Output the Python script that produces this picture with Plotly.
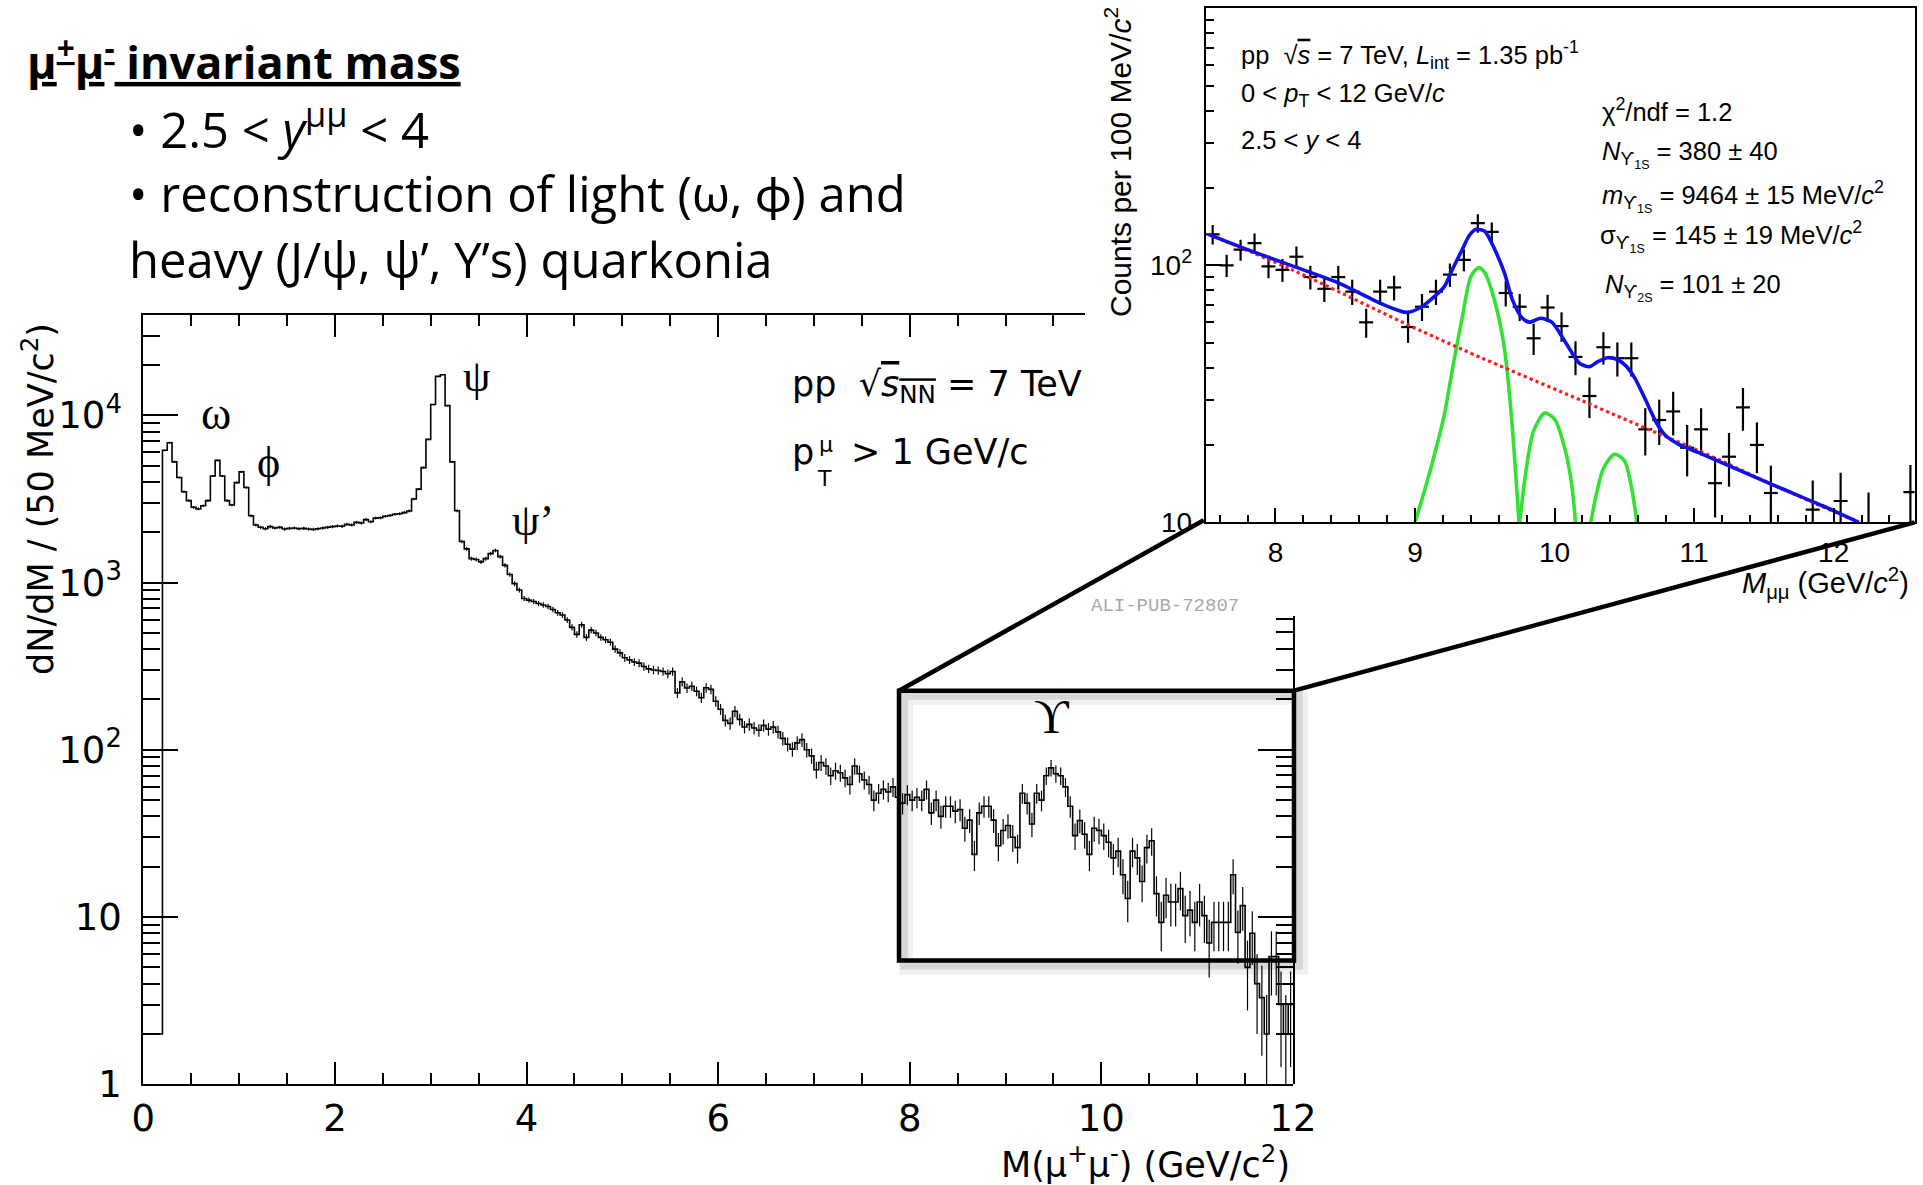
import numpy as np
import plotly.graph_objects as go

W, H = 1923, 1185

# ---------------------------------------------------------------------------
# Main spectrum: dN/dM in 50 MeV/c^2 bins, M(mu+mu-) from 0 to 12 GeV/c^2
# ---------------------------------------------------------------------------
BIN_WIDTH = 0.05
mass_counts = [
    2, 2, 2, 2,                                                        # 0.00-0.15
    6180, 6860, 5270, 4250, 3490, 3090, 2820, 2756, 2880, 3090,        # 0.20-0.65
    4340, 5380, 4340, 3090, 2910, 3960, 4590, 3700, 2510, 2210,        # 0.70-1.15
    2140, 2100, 2160, 2120, 2140, 2090, 2110, 2120, 2100, 2110,        # 1.20-1.65
    2090, 2080, 2100, 2120, 2140, 2160, 2180, 2170, 2230, 2210,        # 1.70-2.15
    2290, 2270, 2380, 2310, 2430, 2440, 2490, 2520, 2560, 2580,        # 2.20-2.65
    2620, 2680, 3160, 3620, 4870, 7180, 11600, 17100, 17470, 11430,    # 2.70-3.15
    5270, 2690, 1760, 1590, 1390, 1375, 1330, 1390, 1490, 1556,        # 3.20-3.65
    1430, 1268, 1117, 986, 902, 804, 785, 770, 750, 735,               # 3.70-4.15
    720, 690, 660, 640, 597, 540, 490, 560, 470, 520,                  # 4.20-4.65
    500, 470, 455, 440, 400, 380, 355, 345, 335, 330,                  # 4.70-5.15
    315, 305, 300, 298, 294, 285, 294, 219, 255, 234,                  # 5.20-5.65
    240, 224, 205, 235, 230, 195, 175, 150, 144, 170,                  # 5.70-6.15
    152, 137, 142, 135, 131, 140, 133, 137, 128, 117,                  # 6.20-6.65
    108, 101, 110, 115, 100, 92, 76, 84, 80, 70,                       # 6.70-7.15
    75, 73, 68, 62, 80, 72, 66, 62, 50, 55,                            # 7.20-7.65
    58, 56, 60, 52, 48, 54, 50, 52, 50, 58,                            # 7.70-8.15
    42, 50, 40, 46, 46, 43, 44, 34, 38, 23.7,                          # 8.20-8.65
    42, 46, 46, 38, 26.7, 32.9, 35.3, 30, 26, 55,                      # 8.70-9.15
    48, 36, 55, 50, 70, 78, 72, 70, 60, 46,                            # 9.20-9.65
    30.7, 37.8, 31.3, 23.7, 34, 33, 30.7, 28, 22.6, 24.8,              # 9.70-10.15
    17.9, 12.9, 24.8, 22.6, 16.3, 26, 28.6, 13.8, 9.3, 13.5,           # 10.20-10.65
    12.3, 12.3, 14.8, 10.2, 11.0, 9.3, 12.3, 10.2, 7.0, 9.3,           # 10.70-11.15
    9.3, 9.3, 9.3, 17.9, 8.1, 11.7, 5.0, 8.0, 4.0, 3.3,                # 11.20-11.65
    2.0, 5.8, 5.8, 3.0, 2.0, 3.0,                                      # 11.70-11.95
]
FIRST_FILLED_BIN = 4   # spectrum proper starts at 0.2 GeV/c^2

main_xticks = [0, 2, 4, 6, 8, 10, 12]
main_yticks = [1, 10, 100, 1000, 10000]
main_yticktext = ["1", "10", "10<sup>2</sup>", "10<sup>3</sup>", "10<sup>4</sup>"]

# ---------------------------------------------------------------------------
# Upsilon region (inset): counts per 100 MeV/c^2 and fit components
# ---------------------------------------------------------------------------
inset_mass = [7.55, 7.65, 7.75, 7.85, 7.95, 8.05, 8.15, 8.25, 8.35, 8.45,
              8.55, 8.65, 8.75, 8.85, 8.95, 9.05, 9.15, 9.25, 9.35, 9.45,
              9.55, 9.65, 9.75, 9.85, 9.95, 10.05, 10.15, 10.25, 10.35, 10.45,
              10.55, 10.65, 10.75, 10.85, 10.95, 11.05, 11.15, 11.25, 11.35, 11.45,
              11.55, 11.85, 12.05, 12.25, 12.55]
inset_counts = [132, 100, 115, 122, 99, 96, 108, 90, 81, 90,
                79, 60, 79, 82, 57.5, 69, 79, 92, 105, 146,
                135, 78, 69, 52, 68.5, 58, 44, 31, 48, 43.5,
                43.5, 23, 25, 27, 19.5, 23, 14.2, 18, 28, 20,
                13, 11.2, 12.1, 9.9, 13.1]

fit_mass = [7.52, 7.79, 8.12, 8.45, 8.71, 8.84, 8.94, 9.04, 9.14, 9.21,
            9.27, 9.34, 9.39, 9.44, 9.50, 9.57, 9.64, 9.70, 9.77, 9.82,
            9.90, 9.98, 10.05, 10.12, 10.18, 10.25, 10.31, 10.38, 10.45, 10.51,
            10.58, 10.65, 10.73, 10.79, 10.89, 11.03, 11.26, 11.59, 11.92, 12.18]
fit_counts = [132, 115.6, 99.5, 85.5, 72.9, 68.0, 65.6, 68.5, 75.7, 82.6,
              96.9, 115.6, 130.9, 138, 135.6, 115.6, 93.6, 72.9, 62.2, 60.1,
              62.2, 60.1, 53.1, 46.1, 41.5, 40.3, 42.2, 43.7, 43.0, 40.7,
              36.0, 30.1, 24.4, 21.9, 20.1, 18.7, 16.5, 13.8, 11.6, 10.0]

bkg_mass = [7.52, 8.12, 8.94, 9.44, 10.10, 10.60, 11.09, 11.59, 12.18]
bkg_counts = [132, 96, 59, 44.5, 31.3, 23.9, 18.4, 13.8, 10.0]

ups1s_mass = [9.00, 9.07, 9.14, 9.21, 9.27, 9.34, 9.40, 9.455, 9.50, 9.57, 9.64, 9.69, 9.745]
ups1s_counts = [10, 13.4, 18.4, 26.2, 40, 63.4, 90.2, 97.9, 93.5, 72.9, 47.8, 26.2, 10]
ups2s_mass = [9.75, 9.80, 9.85, 9.93, 10.00, 10.07, 10.12, 10.15]
ups2s_counts = [10, 16.5, 22.7, 26.6, 25.2, 19.7, 14.4, 10]
ups3s_mass = [10.26, 10.30, 10.35, 10.43, 10.50, 10.55, 10.59]
ups3s_counts = [10, 12.9, 16.2, 18.4, 17.4, 13.8, 10]

inset_xticks = [8, 9, 10, 11, 12]
inset_yticks = [10, 100]
inset_yticktext = ["10", "10<sup>2</sup>"]

# ---------------------------------------------------------------------------
# Page geometry (pixels on the 1923 x 1185 canvas)
# ---------------------------------------------------------------------------
MAIN_L, MAIN_R, MAIN_T, MAIN_B = 143.3, 1293.0, 315.0, 1084.3
INSET_L, INSET_R, INSET_T, INSET_B = 1205.7, 1914.6, 8.3, 522.3
FRAME_CUT_X, FRAME_CUT_Y = 1085.0, 616.0      # main frame hidden behind the inset
PX_PER_GEV = (MAIN_R - MAIN_L) / 12.0
PX_PER_DECADE = 167.4


def fx(p):
    return p / W


def fy(p):
    return 1 - p / H


ROOT_FONT = "DejaVu Sans"
INSET_FONT = "Liberation Sans"
SERIF = "Liberation Serif, DejaVu Serif"
SLIDE_FONT = "Open Sans, Lato, sans-serif"

fig = go.Figure()

# main histogram drawn as steps
edges = np.round(np.arange(len(mass_counts) + 1) * BIN_WIDTH, 3)
fig.add_trace(go.Scatter(
    x=edges, y=list(mass_counts) + [mass_counts[-1]],
    mode="lines", line=dict(shape="hv", color="black", width=1.6),
    xaxis="x", yaxis="y", hoverinfo="skip", showlegend=False))

# statistical error bars of the main histogram
vals = np.array(mass_counts[FIRST_FILLED_BIN:], dtype=float)
centers = edges[FIRST_FILLED_BIN:-1] + BIN_WIDTH / 2
fig.add_trace(go.Scatter(
    x=centers, y=vals, mode="markers", marker=dict(size=1, color="black"),
    error_y=dict(type="data", array=np.sqrt(vals), color="black", thickness=1.2, width=0),
    xaxis="x", yaxis="y", hoverinfo="skip", showlegend=False))

# placeholders so the partial top/right frame axes get drawn
fig.add_trace(go.Scatter(x=[None], y=[None], xaxis="x3", yaxis="y", showlegend=False, hoverinfo="skip"))
fig.add_trace(go.Scatter(x=[None], y=[None], xaxis="x", yaxis="y3", showlegend=False, hoverinfo="skip"))

# inset: data points
ic = np.array(inset_counts, dtype=float)
fig.add_trace(go.Scatter(
    x=inset_mass, y=ic, mode="markers", marker=dict(size=1, color="black"),
    error_x=dict(type="constant", value=0.05, color="black", thickness=2.2, width=0),
    error_y=dict(type="data", array=np.sqrt(ic), color="black", thickness=2.2, width=0),
    xaxis="x2", yaxis="y2", hoverinfo="skip", showlegend=False))

# inset: fit components
for xs, ys in [(ups1s_mass, ups1s_counts), (ups2s_mass, ups2s_counts), (ups3s_mass, ups3s_counts)]:
    fig.add_trace(go.Scatter(
        x=xs, y=ys, mode="lines", line=dict(color="#33e133", width=3.6, shape="spline", smoothing=0.8),
        xaxis="x2", yaxis="y2", hoverinfo="skip", showlegend=False))
fig.add_trace(go.Scatter(
    x=bkg_mass, y=bkg_counts, mode="lines", line=dict(color="#ff1a1a", width=3.2, dash="dot", shape="spline"),
    xaxis="x2", yaxis="y2", hoverinfo="skip", showlegend=False))
fig.add_trace(go.Scatter(
    x=fit_mass, y=fit_counts, mode="lines", line=dict(color="#1010e8", width=3.6, shape="spline", smoothing=0.7),
    xaxis="x2", yaxis="y2", hoverinfo="skip", showlegend=False))


def minor_log(decades, top):
    return [k * 10 ** d for d in decades for k in range(2, 10) if k * 10 ** d < top]


frame = dict(showline=True, linecolor="black", linewidth=2, showgrid=False, zeroline=False,
             ticks="inside", tickcolor="black", tickwidth=2, automargin=False)

fig.update_layout(
    width=W, height=H, margin=dict(l=0, r=0, t=0, b=0, autoexpand=False),
    paper_bgcolor="white", plot_bgcolor="rgba(0,0,0,0)", showlegend=False,
    xaxis=dict(**frame, domain=[fx(MAIN_L), fx(MAIN_R)], range=[0, 12], anchor="y",
               ticklen=22, tickmode="array", tickvals=main_xticks,
               minor=dict(ticks="inside", ticklen=11, tickwidth=2, tickcolor="black", dtick=0.5, tick0=0),
               tickfont=dict(family=ROOT_FONT, size=37, color="black"), ticklabelstandoff=0),
    yaxis=dict(**frame, domain=[fy(MAIN_B), fy(MAIN_T)], type="log", range=[0, 4.6], anchor="x",
               ticklen=35, tickmode="array", tickvals=main_yticks, ticktext=main_yticktext,
               minor=dict(ticks="inside", ticklen=17, tickwidth=2, tickcolor="black",
                          tickmode="array", tickvals=minor_log(range(0, 5), 39800)),
               tickfont=dict(family=ROOT_FONT, size=37, color="black"), ticklabelstandoff=12),
    xaxis3=dict(**frame, domain=[fx(MAIN_L), fx(FRAME_CUT_X)],
                range=[0, (FRAME_CUT_X - MAIN_L) / PX_PER_GEV], anchor="y", side="top",
                ticklen=22, tickmode="array", tickvals=main_xticks, showticklabels=False,
                minor=dict(ticks="inside", ticklen=11, tickwidth=2, tickcolor="black", dtick=0.5, tick0=0)),
    yaxis3=dict(**frame, domain=[fy(MAIN_B), fy(FRAME_CUT_Y)], type="log",
                range=[0, (MAIN_B - FRAME_CUT_Y) / PX_PER_DECADE], anchor="x", side="right",
                ticklen=35, tickmode="array", tickvals=main_yticks, showticklabels=False,
                minor=dict(ticks="inside", ticklen=17, tickwidth=2, tickcolor="black",
                           tickmode="array", tickvals=minor_log(range(0, 3), 1000))),
    xaxis2=dict(**frame, mirror=True, domain=[fx(INSET_L), fx(INSET_R)], range=[7.5, 12.58],
                anchor="y2", ticklen=14, tickmode="array", tickvals=inset_xticks,
                minor=dict(ticks="inside", ticklen=7, tickwidth=2, tickcolor="black", dtick=0.2, tick0=0),
                tickfont=dict(family=INSET_FONT, size=28, color="black"), ticklabelstandoff=4),
    yaxis2=dict(**frame, mirror=True, domain=[fy(INSET_B), fy(INSET_T)], type="log", range=[1, 3],
                anchor="x2", ticklen=16, tickmode="array", tickvals=inset_yticks, ticktext=inset_yticktext,
                minor=dict(ticks="inside", ticklen=8, tickwidth=2, tickcolor="black",
                           tickmode="array", tickvals=minor_log([1, 2], 1001)),
                tickfont=dict(family=INSET_FONT, size=28, color="black"), ticklabelstandoff=6),
)

annotations = []


def note(text, x, y, size, family, xanchor="left", yanchor="middle", angle=0, color="black"):
    annotations.append(dict(text=text, x=fx(x), y=fy(y), xref="paper", yref="paper",
                            xanchor=xanchor, yanchor=yanchor, textangle=angle, showarrow=False,
                            font=dict(family=family, size=size, color=color)))


# slide heading and bullets
note("<b><u>μ<sup>+</sup>μ<sup>-</sup> invariant mass</u></b>", 25, 59, 45, SLIDE_FONT)
note("• 2.5 < <i>y</i><sup>μμ</sup> < 4", 127, 126, 49, SLIDE_FONT)
note("• reconstruction of light (ω, ϕ) and", 127, 193, 49, SLIDE_FONT)
note("heavy (J/ψ, ψ’, Υ’s) quarkonia", 127, 259, 49, SLIDE_FONT)

# main axis titles
note("M(μ<sup>+</sup>μ<sup>-</sup>) (GeV/c<sup>2</sup>)", 1292, 1162, 35, ROOT_FONT, xanchor="right")
note("dN/dM / (50 MeV/c<sup>2</sup>)", 38, 321, 35, ROOT_FONT, xanchor="center", yanchor="top", angle=-90)

# resonance labels
note("ω", 216, 414, 46, SERIF, xanchor="center")
note("ϕ", 268, 462, 44, SERIF, xanchor="center")
note("ψ", 477, 376, 44, SERIF, xanchor="center")
note("ψ’", 533, 520, 44, SERIF, xanchor="center")
note("ϒ", 1052, 716, 48, SERIF, xanchor="center")

# collision system and muon cut
note("pp\u00a0\u00a0√<span style='text-decoration:overline'><i>s</i><sub>NN</sub></span> = 7 TeV",
     790, 386, 35, ROOT_FONT)
note("p", 790, 452, 35, ROOT_FONT)
note("μ", 817, 444, 22, ROOT_FONT)
note("T", 815, 478, 22, ROOT_FONT)
note("> 1 GeV/c", 849, 452, 35, ROOT_FONT)

note("ALI-PUB-72807", 1165, 606, 19, "Liberation Mono", xanchor="center", color="#a8a8a8")

# inset texts
note("pp \u00a0√<span style='text-decoration:overline'><i>s</i></span> = 7 TeV, <i>L</i><sub>int</sub> = 1.35 pb<sup>-1</sup>",
     1239, 55, 25.5, INSET_FONT)
note("0 < <i>p</i><sub>T</sub> < 12 GeV/<i>c</i>", 1239, 95, 25.5, INSET_FONT)
note("2.5 < <i>y</i> < 4", 1239, 140, 25.5, INSET_FONT)
note("χ<sup>2</sup>/ndf = 1.2", 1600, 110, 25.5, INSET_FONT)
note("<i>N</i><sub>ϒ<sub>1S</sub></sub> = 380 ± 40", 1600, 154, 25.5, INSET_FONT)
note("<i>m</i><sub>ϒ<sub>1S</sub></sub> = 9464 ± 15 MeV/<i>c</i><sup>2</sup>", 1600, 196, 25.5, INSET_FONT)
note("σ<sub>ϒ<sub>1S</sub></sub> = 145 ± 19 MeV/<i>c</i><sup>2</sup>", 1598, 237, 25.5, INSET_FONT)
note("<i>N</i><sub>ϒ<sub>2S</sub></sub> = 101 ± 20", 1603, 288, 25.5, INSET_FONT)
note("<i>M</i><sub>μμ</sub> (GeV/<i>c</i><sup>2</sup>)", 1911, 583, 29, INSET_FONT, xanchor="right")
note("Counts per 100 MeV/<i>c</i><sup>2</sup>", 1118, 5, 30, INSET_FONT, xanchor="center", yanchor="top", angle=-90)

fig.update_layout(annotations=annotations)

# zoom box around the Upsilon region and connectors to the inset
BOX_L, BOX_T, BOX_R, BOX_B = 899.0, 690.7, 1294.0, 960.6
shapes = []
for off, wid, alpha in [(7, 14, 0.06), (5, 8, 0.10)]:
    shapes.append(dict(type="rect", xref="paper", yref="paper",
                       x0=fx(BOX_L + off), x1=fx(BOX_R + off), y0=fy(BOX_B + off), y1=fy(BOX_T + off),
                       line=dict(color=f"rgba(0,0,0,{alpha})", width=wid), layer="above"))
shapes.append(dict(type="rect", xref="paper", yref="paper",
                   x0=fx(BOX_L), x1=fx(BOX_R), y0=fy(BOX_B), y1=fy(BOX_T),
                   line=dict(color="black", width=4.5), layer="above"))
shapes.append(dict(type="line", xref="paper", yref="paper",
                   x0=fx(BOX_L), y0=fy(BOX_T), x1=fx(INSET_L - 2), y1=fy(INSET_B - 2),
                   line=dict(color="black", width=4.5), layer="above"))
shapes.append(dict(type="line", xref="paper", yref="paper",
                   x0=fx(BOX_R), y0=fy(BOX_T), x1=fx(INSET_R), y1=fy(INSET_B),
                   line=dict(color="black", width=4.5), layer="above"))
fig.update_layout(shapes=shapes)

fig.write_html("out.html")
